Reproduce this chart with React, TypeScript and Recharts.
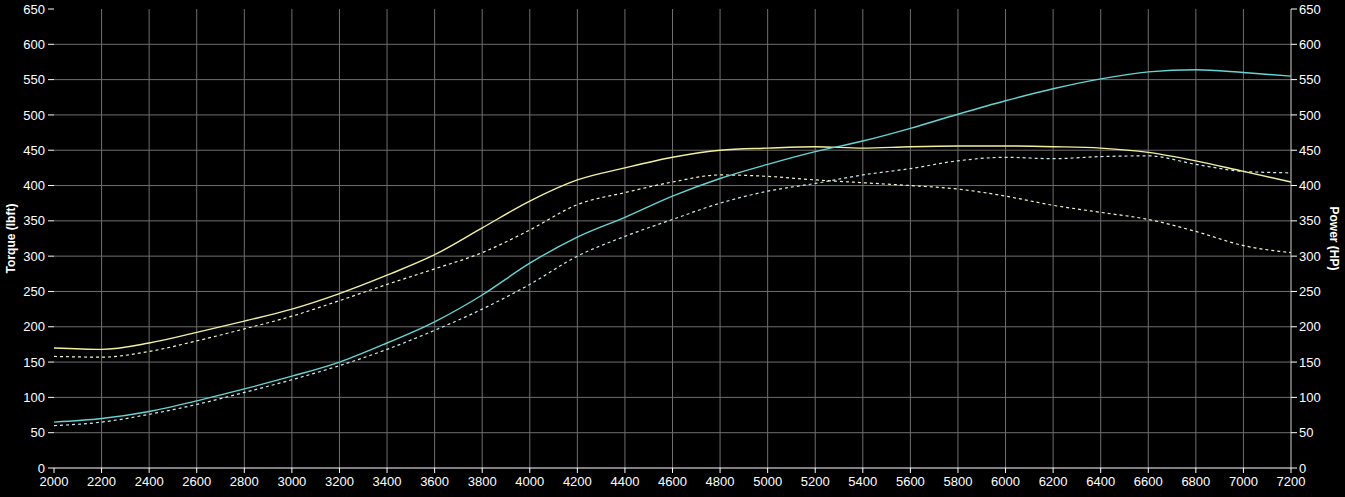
import { LineChart, Line, XAxis, YAxis, CartesianGrid } from 'recharts';

const rpm = [
  2000, 2200, 2400, 2600, 2800, 3000, 3200, 3400, 3600, 3800, 4000, 4200, 4400, 4600,
  4800, 5000, 5200, 5400, 5600, 5800, 6000, 6200, 6400, 6600, 6800, 7000, 7200,
];

// torque (lbft), current run and baseline
const torque = [
  170, 168, 177, 192, 208, 225, 247, 273, 302, 340, 378, 408, 425, 440,
  450, 453, 455, 453, 455, 456, 456, 455, 453, 447, 435, 420, 405,
];
const torqueBase = [
  158, 157, 165, 180, 197, 215, 237, 260, 282, 305, 337, 373, 390, 405,
  415, 413, 408, 404, 400, 395, 385, 372, 362, 352, 335, 315, 305,
];

// power (HP), current run and baseline
const power = [
  65, 70, 80, 95, 112, 130, 150, 177, 207, 245, 290, 327, 355, 385,
  410, 430, 448, 463, 481, 501, 520, 537, 551, 561, 564, 560, 555,
];
const powerBase = [
  60, 65, 76, 90, 107, 125, 145, 168, 195, 225, 260, 300, 328, 352,
  375, 392, 403, 415, 424, 435, 440, 438, 441, 442, 430, 420, 418,
];

const xTicks = rpm;
const yTicks = [0, 50, 100, 150, 200, 250, 300, 350, 400, 450, 500, 550, 600, 650];

const data = rpm.map((r, i) => ({
  rpm: r,
  torque: torque[i],
  torqueBase: torqueBase[i],
  power: power[i],
  powerBase: powerBase[i],
}));

const font = 'Arial, "Liberation Sans", sans-serif';
const tickStyle = { fill: '#ffffff', fontSize: 13, fontFamily: font };

const AxisTitle = (props: any) => {
  const { viewBox, value, side } = props;
  const { x, y, width, height } = viewBox;
  const cx = side === 'left' ? x + 11 : x + width - 11;
  const cy = y + height / 2;
  return (
    <text
      x={cx}
      y={cy}
      transform={`rotate(${side === 'left' ? -90 : 90} ${cx} ${cy})`}
      textAnchor="middle"
      dominantBaseline="central"
      fill="#ffffff"
      fontWeight="bold"
      fontSize={12}
      fontFamily={font}
    >
      {value}
    </text>
  );
};

export default function App() {
  return (
    <div style={{ position: 'absolute', left: 0, top: 0, width: 1345, height: 497, background: '#000' }}>
      <LineChart width={1345} height={497} data={data} margin={{ top: 9, right: 0, bottom: 0, left: 0 }}>
        <CartesianGrid
          yAxisId="torque"
          stroke="#6e6e6e"
          strokeWidth={1}
          horizontalValues={yTicks.filter((t) => t !== 0 && t !== 650)}
          verticalValues={xTicks.filter((t) => t !== 2000 && t !== 7200)}
        />
        <XAxis
          dataKey="rpm"
          type="number"
          domain={[2000, 7200]}
          ticks={xTicks}
          interval={0}
          height={29}
          stroke="#ffffff"
          tick={tickStyle}
          tickSize={5}
          tickMargin={4}
        />
        <YAxis
          yAxisId="torque"
          orientation="left"
          domain={[0, 650]}
          ticks={yTicks}
          interval={0}
          width={54}
          axisLine={false}
          tickLine={{ stroke: '#ffffff' }}
          tick={tickStyle}
          tickSize={6}
          tickMargin={3}
          label={<AxisTitle value="Torque (lbft)" side="left" />}
        />
        <YAxis
          yAxisId="power"
          orientation="right"
          domain={[0, 650]}
          ticks={yTicks}
          interval={0}
          width={54}
          stroke="#d0d0d0"
          tickLine={{ stroke: '#ffffff' }}
          tick={tickStyle}
          tickSize={6}
          tickMargin={2}
          label={<AxisTitle value="Power (HP)" side="right" />}
        />
        <Line yAxisId="torque" type="monotone" dataKey="torqueBase" stroke="#f4f4c8" strokeWidth={1.2} strokeDasharray="3 3" dot={false} isAnimationActive={false} />
        <Line yAxisId="power" type="monotone" dataKey="powerBase" stroke="#c8eef0" strokeWidth={1.2} strokeDasharray="3 3" dot={false} isAnimationActive={false} />
        <Line yAxisId="torque" type="monotone" dataKey="torque" stroke="#f2f0a0" strokeWidth={1.4} dot={false} isAnimationActive={false} />
        <Line yAxisId="power" type="monotone" dataKey="power" stroke="#66d4d4" strokeWidth={1.4} dot={false} isAnimationActive={false} />
      </LineChart>
    </div>
  );
}
